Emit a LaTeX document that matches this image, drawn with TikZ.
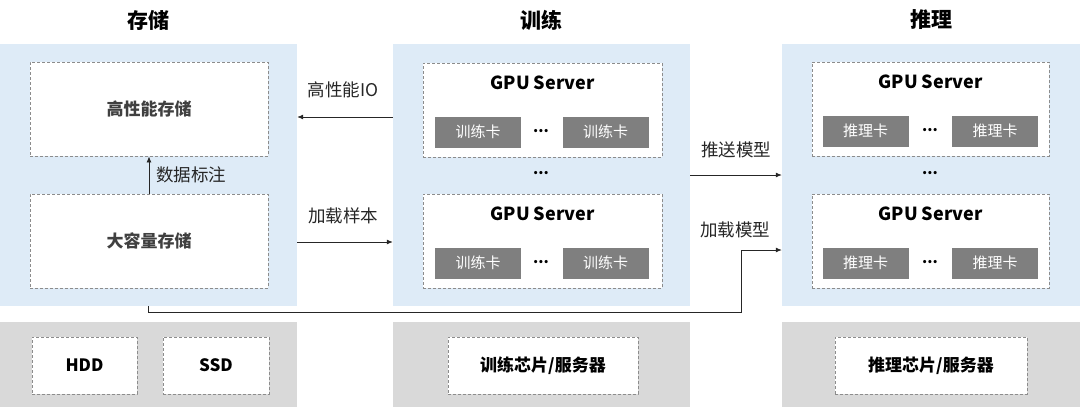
\documentclass[tikz,border=0pt]{standalone}
\usepackage{fontspec}
\setmainfont{Noto Sans CJK SC}
\usetikzlibrary{arrows.meta}

\definecolor{panelblue}{HTML}{DEEBF7}
\definecolor{panelgray}{HTML}{D9D9D9}
\definecolor{cardgray}{HTML}{7F7F7F}
\definecolor{dashgray}{HTML}{8C8C8C}
\definecolor{txtdark}{HTML}{262626}
\definecolor{boxtxt}{HTML}{404040}

\begin{document}
\begin{tikzpicture}[x=1pt,y=-1pt,
    panel/.style={fill=panelblue,minimum width=297pt,minimum height=262pt,inner sep=0pt},
    base/.style={fill=panelgray,minimum width=297pt,minimum height=85pt,inner sep=0pt},
    title/.style={font=\fontsize{21}{24}\selectfont\bfseries},
    dbox/.style={draw=dashgray,dash pattern=on 3pt off 2pt,line width=0.8pt,fill=white,
      minimum width=238pt,minimum height=94pt,inner sep=0pt,text=boxtxt,
      font=\fontsize{17}{20}\selectfont\bfseries},
    sbox/.style={dbox,minimum height=57pt,text=black},
    card/.style={fill=cardgray,text=white,minimum width=86pt,minimum height=31pt,
      inner sep=0pt,font=\fontsize{15}{18}\selectfont},
    srv/.style={font=\fontsize{18}{21}\selectfont\bfseries},
    dots/.style={font=\fontsize{15}{18}\selectfont\bfseries},
    lbl/.style={font=\fontsize{17.5}{20}\selectfont,text=txtdark},
    link/.style={-{Latex[length=6pt,width=5pt]},line width=0.8pt,draw=txtdark}]
  \useasboundingbox (0,0) rectangle (1080,407);

  % columns
  \node[panel] (stpanel) at (148.5,175) {};
  \node[panel] (trpanel) at (541.5,175) {};
  \node[panel,minimum width=298pt] (infpanel) at (931,175) {};
  \node[base] (stbase) at (148.5,364.5) {};
  \node[base] (trbase) at (541.5,364.5) {};
  \node[base,minimum width=298pt] (infbase) at (931,364.5) {};

  \node[title] (sttitle) at (148,20) {存储};
  \node[title] (trtitle) at (541,20) {训练};
  \node[title] (inftitle) at (931,20) {推理};

  % storage
  \node[dbox] (hpbox) at (149,109) {高性能存储};
  \node[dbox] (lcbox) at (149,241) {大容量存储};
  \draw[link] (lcbox.north) -- (hpbox.south);
  \node[lbl] (tagl) at (191,175) {数据标注};

  % training
  \foreach \i/\y in {1/110,2/241} {
    \node[dbox,minimum width=239pt] (trsrv\i) at (542.5,\y) {};
    \node[srv] (trname\i) at (542.5,\y-27) {GPU Server};
    \node[card] (trcardA\i) at (478,\y+22) {训练卡};
    \node[card] (trcardB\i) at (605.5,\y+22) {训练卡};
    \node[dots] (trdots\i) at (541,\y+21) {...};
  }
  \node[dots] (trmid) at (541,173) {...};

  % inference
  \foreach \i/\y in {1/109,2/241} {
    \node[dbox,minimum width=237pt] (infsrv\i) at (930.5,\y) {};
    \node[srv] (infname\i) at (930.5,\y-27) {GPU Server};
    \node[card] (infcardA\i) at (865.5,\y+22) {推理卡};
    \node[card] (infcardB\i) at (995,\y+22) {推理卡};
    \node[dots] (infdots\i) at (930,\y+21) {...};
  }
  \node[dots] (infmid) at (930,173) {...};

  % bottom layer
  \node[sbox,minimum width=105pt] (hdd) at (84.5,365.5) {HDD};
  \node[sbox,minimum width=106pt] (ssd) at (216,365.5) {SSD};
  \node[sbox,minimum width=190pt] (trchip) at (543,365.5) {训练芯片/服务器};
  \node[sbox,minimum width=192pt] (infchip) at (931,365.5) {推理芯片/服务器};

  % flows
  \draw[link] ([yshift=58pt]trpanel.west) -- ([yshift=58pt]stpanel.east);
  \node[lbl] (iol) at (343,90) {高性能IO};
  \draw[link] ([yshift=-67pt]stpanel.east) -- ([yshift=-67pt]trpanel.west);
  \node[lbl] (samplel) at (343,216) {加载样本};
  \draw[link] (trpanel.east) -- (infpanel.west);
  \node[lbl] (pushl) at (736,150) {推送模型};
  \coordinate (lmturn) at (741,312);
  \draw[link] (stpanel.south) |- (lmturn) |- ([yshift=-75pt]infpanel.west);
  \node[lbl] (loadl) at (735,230) {加载模型};
\end{tikzpicture}
\end{document}
